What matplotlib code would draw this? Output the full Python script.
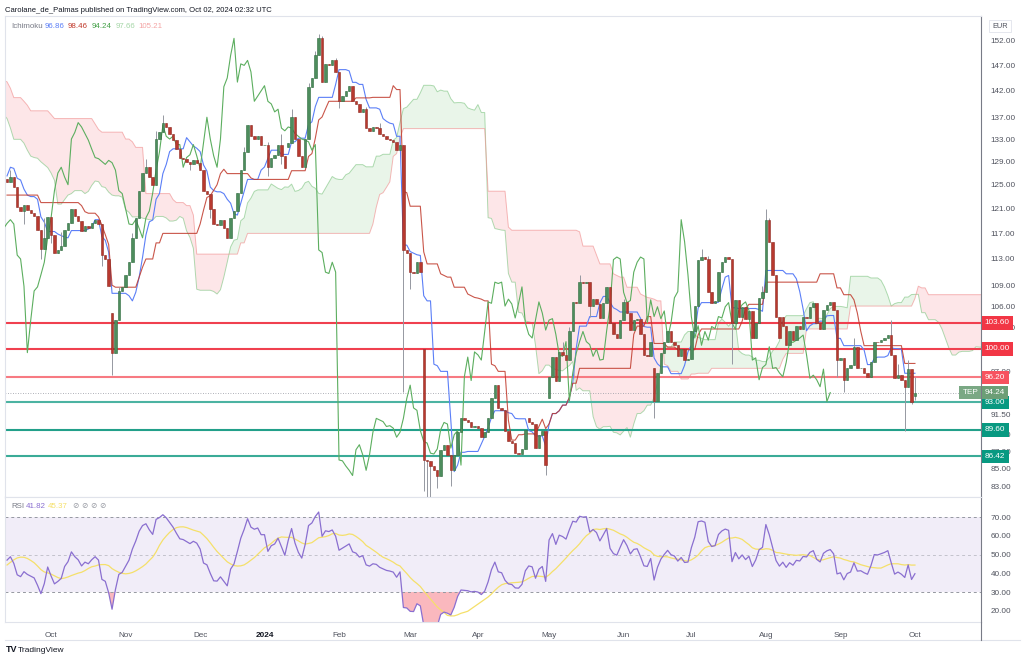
import matplotlib
matplotlib.use("Agg")
import matplotlib.pyplot as plt
from matplotlib.ticker import NullLocator
import numpy as np
import pandas as pd

plt.rcParams['font.family'] = ['Liberation Sans', 'DejaVu Sans']

# closes before the visible window (only used to warm up the indicators)
warmup_closes = [152, 154, 153, 155, 157, 156, 158, 159, 157, 155, 153, 151, 150, 152, 154, 153, 151, 149,
                 150, 152, 155, 156, 154, 153, 155, 157, 158, 156, 154, 152, 150, 151, 153, 152, 150, 149,
                 151, 153, 152, 150, 148, 150,
                 134, 132, 133, 131, 130, 132, 133, 134, 132, 130, 129, 128.5,
                 126, 122.4, 125,
                 124, 121, 119.5, 118.4, 120, 121.5, 122, 120.5,
                 119, 117, 115.5, 118, 122, 125, 128, 129, 131, 130, 128, 127, 126]

# visible daily closes, first bar has index -13 (index 0 = 2 Oct 2023)
first_idx = -13
closes = [125.5, 126.3, 124.6, 121.2, 120.6, 121.6, 120.8, 120.3, 119.8, 117.6, 114.6, 116.3, 119.6,
          116.8, 113.9, 114.4, 115.0, 117.5, 118.6, 121.0, 119.8, 119.0, 117.4, 118.2, 117.8, 118.6,
          119.2, 118.5, 113.6, 113.0, 108.9, 99.5, 104.0, 108.2, 108.8, 110.6, 112.5, 116.3, 119.5,
          124.0, 127.0, 128.0, 126.3, 125.0, 133.0, 134.2, 136.0, 135.2, 134.0, 132.8, 131.2, 129.7,
          129.5, 129.0, 128.5, 129.2, 128.8, 127.5, 124.0, 123.5, 121.0, 118.5, 118.4, 119.2, 117.8,
          116.3, 119.5, 120.6, 123.6, 127.5, 130.7, 135.5, 133.5, 133.0, 133.5, 132.0, 132.0, 128.0,
          129.7, 130.2, 132.0, 130.0, 127.8, 132.3, 137.0, 133.0, 130.0, 128.0, 133.0, 142.8, 144.5,
          149.0, 152.5, 143.7, 147.3, 147.0, 148.0, 145.7, 140.0, 141.0, 142.0, 143.0, 140.0, 139.5,
          138.0, 138.5, 135.0, 134.5, 135.2, 135.0, 134.0, 133.5, 133.0, 132.8, 132.5, 131.0, 132.0,
          114.4, 114.0, 111.0, 110.8, 112.5, 111.0, 86.0, 85.9, 85.3, 84.8, 84.2, 87.2, 87.8, 86.6,
          84.8, 86.6, 89.3, 91.0, 90.8, 90.6, 90.0, 90.1, 89.8, 88.7, 89.3, 91.0, 93.5, 95.2, 92.3,
          92.0, 89.5, 88.2, 88.0, 86.8, 86.7, 87.3, 89.6, 90.5, 90.3, 87.4, 89.0, 89.5, 85.4, 96.3,
          98.9, 95.8, 99.6, 99.2, 98.5, 102.4, 106.6, 106.4, 109.5, 109.3, 109.5, 106.0, 107.0, 106.3,
          104.3, 106.4, 108.8, 103.6, 102.0, 101.5, 104.0, 106.6, 105.0, 102.6, 104.0, 104.2, 102.0,
          99.2, 99.0, 101.0, 93.2, 96.8, 99.4, 101.0, 102.4, 101.0, 100.6, 99.0, 100.0, 98.5, 98.6,
          102.5, 106.0, 112.9, 113.3, 113.0, 108.0, 106.5, 106.8, 111.0, 112.5, 113.3, 113.0, 103.6,
          106.9, 104.5, 105.9, 104.2, 105.3, 101.5, 103.6, 107.2, 108.1, 119.2, 115.7, 110.6, 104.5,
          101.5, 103.2, 100.5, 102.4, 101.2, 103.1, 102.8, 104.5, 104.3, 105.9, 106.5, 103.6, 102.7,
          105.4, 106.2, 106.6, 105.4, 98.5, 98.8, 95.9, 97.5, 97.9, 100.3, 97.4, 97.5, 96.8, 96.3,
          98.2, 101.0, 100.9, 101.2, 101.5, 101.9, 99.2, 96.1, 96.5, 95.9, 95.0, 97.3, 93.1, 94.24]

# opens that do not sit on the previous close (gaps)
open_gaps = {18: 105.0, 70: 131.5, 110: 100.0, 141: 91.0, 147: 93.5, 178: 97.5, 216: 104.5, 255: 93.8}

wick_highs = {-12: 127.5, -2: 119.5, 3: 117.2, 20: 108.8, 24: 117, 28: 129.5, 31: 134.5, 33: 137.5,
              57: 131.5, 64: 132.5, 68: 134, 71: 138.5, 76: 143.5, 78: 150, 79: 153.5, 80: 153,
              84: 148.5, 93: 139, 97: 136, 151: 101, 153: 103, 156: 110.5, 169: 107, 192: 114.5,
              194: 113.5, 210: 109, 211: 121, 212: 119.5, 237: 101.5, 248: 104, 250: 98, 253: 98.5,
              255: 96.3}
wick_lows = {-8: 118.5, -3: 113, 0: 115.5, 15: 112, 18: 96.5, 41: 127.5, 47: 119.5, 64: 126.5,
             68: 128.5, 85: 138.8, 104: 94.3, 106: 108.5, 110: 82.5, 111: 81.5, 112: 81.5, 114: 82.8,
             118: 83, 146: 84.3, 159: 104.5, 178: 91.0, 201: 98, 232: 96.3, 234: 94.3, 252: 89.5,
             254: 92.8, 255: 93.3}

month_pos = [0, 22, 44, 63, 85, 106, 126, 147, 169, 189, 211, 233, 255]
month_labels = ['Oct', 'Nov', 'Dec', '2024', 'Feb', 'Mar', 'Apr', 'May', 'Jun', 'Jul', 'Aug', 'Sep', 'Oct']

price_ticks = [152, 147, 142, 137, 133, 129, 125, 121, 117, 113, 109, 106, 103, 97, 91.5, 89, 87, 85, 83]
rsi_ticks = [70, 60, 50, 40, 30, 20]

levels = [103.60, 100.00, 96.20, 93.00, 89.60, 86.42]
level_line_colors = ['#f0404f', '#f0404f', '#f77a82', '#4cb3a2', '#22a08a', '#3aab97']
level_box_colors = ['#f23645', '#f23645', '#f7525f', '#089981', '#089981', '#089981']
last_price = 94.24

# ---------------------------------------------------------------
allc = np.array(warmup_closes + closes, dtype=float)
start = first_idx - len(warmup_closes)
idx = np.arange(len(allc)) + start
opens = np.r_[allc[0], allc[:-1]]
for k, v in open_gaps.items():
    opens[k - start] = v
highs = np.maximum(opens, allc)
lows = np.minimum(opens, allc)
for k, v in wick_highs.items():
    highs[k - start] = max(highs[k - start], v)
for k, v in wick_lows.items():
    lows[k - start] = min(lows[k - start], v)

h = pd.Series(highs)
l = pd.Series(lows)
tenkan = ((h.rolling(9).max() + l.rolling(9).min()) / 2).values
kijun = ((h.rolling(26).max() + l.rolling(26).min()) / 2).values
span_a = (tenkan + kijun) / 2
span_b = ((h.rolling(52).max() + l.rolling(52).min()) / 2).values
shift = 25

c = pd.Series(allc)
d = c.diff().fillna(0)
up = d.clip(lower=0).ewm(alpha=1 / 14, adjust=False).mean()
dn = (-d).clip(lower=0).ewm(alpha=1 / 14, adjust=False).mean()
rsi = (100 - 100 / (1 + up / dn)).values
rsi_ma = pd.Series(rsi).rolling(14).mean().values

vis = idx >= first_idx

# ---------------------------------------------------------------
W, H = 1024, 661
fig = plt.figure(figsize=(W / 100, H / 100), dpi=100)
fig.patch.set_facecolor('white')

def fx(px):
    return px / W

def fy(py):
    return 1 - py / H

fs = 5.9
x0, x1 = -13.6, 274.5
ax = fig.add_axes([fx(5), fy(497), fx(976), (497 - 16) / H])
ax_r = fig.add_axes([fx(5), fy(622), fx(976), (622 - 497) / H])

grey_txt = '#50535e'
for a in (ax, ax_r):
    a.set_xlim(x0, x1)
    for s in a.spines.values():
        s.set_color('#e0e3eb')
        s.set_linewidth(0.8)
    a.spines['right'].set_color('#787b86')
    a.yaxis.tick_right()
    a.tick_params(axis='y', length=0, pad=7, labelsize=fs, labelcolor=grey_txt)

# price pane (log scale)
ax.set_yscale('log')
ax.set_ylim(81.78, 157.2)
ax.yaxis.set_minor_locator(NullLocator())
ax.set_yticks(price_ticks)
ax.set_yticklabels(['%.2f' % t for t in price_ticks])
ax.set_xticks([])

# cloud
xa = idx + shift
ax.fill_between(xa, span_a, span_b, where=span_a >= span_b, interpolate=True,
                color='#4caf50', alpha=0.12, lw=0)
ax.fill_between(xa, span_a, span_b, where=span_a < span_b, interpolate=True,
                color='#f23645', alpha=0.12, lw=0)
ax.plot(xa, span_a, color='#7cc47f', lw=0.7, alpha=0.6)
ax.plot(xa, span_b, color='#f08a8a', lw=0.7, alpha=0.6)

# levels
for lv, col in zip(levels, level_line_colors):
    ax.axhline(lv, color=col, lw=1.5, zorder=2)
ax.axhline(last_price, color='#9598a1', lw=0.6, ls=(0, (1, 2)), zorder=2)

# indicator lines
ax.plot(idx[vis], tenkan[vis], color='#5b7ff7', lw=0.8, zorder=3)
ax.plot(idx[vis], kijun[vis], color='#c0392b', lw=0.8, alpha=0.85, zorder=3)
lag = idx - shift
ax.plot(lag[lag >= first_idx - 1], allc[lag >= first_idx - 1], color='#5cae5f', lw=0.8, zorder=3)

# candles
iv = idx[vis]
ov, cv, hv, lv_ = opens[vis], allc[vis], highs[vis], lows[vis]
ax.vlines(iv, lv_, hv, color='#9598a1', lw=0.7, zorder=4)
up_m = cv >= ov
for m, col, ecol in ((up_m, '#4d8d5d', '#2e6b3d'), (~up_m, '#b8392f', '#8e2a22')):
    bot = np.minimum(ov[m], cv[m])
    ht = np.abs(cv[m] - ov[m])
    ax.bar(iv[m], ht, bottom=bot, width=0.72, color=col, edgecolor=ecol, lw=0.4, zorder=5)

# right-axis labels for levels
for lv, col in zip(levels, level_box_colors):
    ax.text(1.004, lv, '%.2f' % lv, transform=ax.get_yaxis_transform(), ha='left', va='center',
            fontsize=fs, color='white', zorder=10, clip_on=False,
            bbox=dict(boxstyle='square,pad=0.4', fc=col, ec='none'))
ax.text(1.004, last_price, '%.2f' % last_price, transform=ax.get_yaxis_transform(), ha='left',
        va='center', fontsize=fs, color='white', zorder=10, clip_on=False,
        bbox=dict(boxstyle='square,pad=0.4', fc='#6c9e76', ec='none'))
ax.text(0.997, last_price, 'TEP', transform=ax.get_yaxis_transform(), ha='right', va='center',
        fontsize=fs, color='white', zorder=10, clip_on=False,
        bbox=dict(boxstyle='square,pad=0.4', fc='#7aa884', ec='none'))

# RSI pane
ax_r.set_ylim(14, 80.7)
ax_r.set_yticks(rsi_ticks)
ax_r.set_yticklabels(['%.2f' % t for t in rsi_ticks])
ax_r.axhspan(30, 70, color='#7e57c2', alpha=0.1, lw=0)
for lvl, al in ((70, 1), (50, 0.5), (30, 1)):
    ax_r.axhline(lvl, color='#9598a1', lw=0.7, ls=(0, (3, 3)), alpha=al)
rv, mv = rsi[vis], rsi_ma[vis]
ax_r.fill_between(iv, rv, 30, where=rv < 30, interpolate=True, color='#f23645', alpha=0.35, lw=0)
ax_r.plot(iv, mv, color='#f5e06a', lw=0.9)
ax_r.plot(iv, rv, color='#8a6fd0', lw=0.9)
ax_r.set_xticks(month_pos)
ax_r.set_xticklabels(month_labels)
ax_r.tick_params(axis='x', length=0, pad=7, labelsize=fs, labelcolor=grey_txt)
for t in ax_r.get_xticklabels():
    if t.get_text() == '2024':
        t.set_fontweight('bold')
        t.set_color('#131722')

# frame lines of the time axis
fig.add_artist(plt.Line2D([fx(5), fx(1020)], [fy(640), fy(640)], color='#e0e3eb', lw=0.8))
fig.add_artist(plt.Line2D([fx(981), fx(981)], [fy(622), fy(640)], color='#787b86', lw=0.8))

# header / legends
fig.text(fx(5), fy(10), 'Carolane_de_Palmas published on TradingView.com, Oct 02, 2024 02:32 UTC',
         fontsize=5.5, color='#131722', va='center')
leg = [('Ichimoku', 11, '#787b86'), ('96.86', 45, '#5b7ff7'), ('98.46', 68, '#c0392b'),
       ('94.24', 92, '#43a047'), ('97.66', 116, '#a5d6a7'), ('105.21', 138, '#f4a4a4')]
for s, px, col in leg:
    fig.text(fx(px), fy(26), s, fontsize=5.7, color=col, va='center')
fig.text(fx(11), fy(507), 'RSI', fontsize=5.7, color='#787b86', va='center')
fig.text(fx(26), fy(507), '41.82', fontsize=5.7, color='#8a6fd0', va='center')
fig.text(fx(48), fy(507), '45.37', fontsize=5.7, color='#f5e06a', va='center')
for px in (72, 81, 90, 99):
    fig.text(fx(px), fy(507), '\u2298', fontsize=5.5, color='#9598a1', va='center')
fig.text(fx(992), fy(26), 'EUR', fontsize=5.3, color=grey_txt, va='center',
         bbox=dict(boxstyle='square,pad=0.4', fc='white', ec='#e0e3eb', lw=0.6))

# footer
fig.text(fx(6), fy(650), 'TV', fontsize=6.5, fontweight='bold', color='#131722', va='center')
fig.text(fx(18), fy(650), 'TradingView', fontsize=6, color='#131722', va='center')

fig.savefig('out.png', dpi=100, facecolor='white')
